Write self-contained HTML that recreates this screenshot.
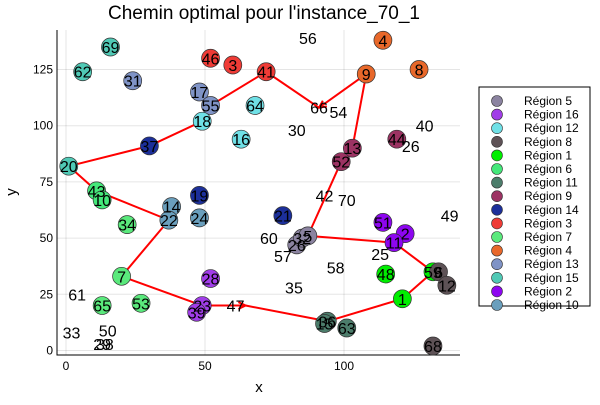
<!DOCTYPE html>
<html><head><meta charset="utf-8"><style>
body{margin:0;background:#fff}
svg text{font-family:"Liberation Sans","DejaVu Sans",sans-serif}
</style></head><body>
<svg id="c" width="600" height="400" xmlns="http://www.w3.org/2000/svg">
<text x="264" y="19" font-size="19" text-anchor="middle">Chemin optimal pour l'instance_70_1</text>
<text x="259" y="392" font-size="15" text-anchor="middle">x</text>
<text x="16" y="192" font-size="15" text-anchor="middle" transform="rotate(-90 16 192)">y</text>
<g id="grid"></g><g id="axes"></g><g id="route"></g><g id="pts"></g><g id="labels"></g><g id="legend"></g>
</svg>
<script>
const regionNames=["Région 5","Région 16","Région 12","Région 8","Région 1","Région 6","Région 11","Région 9","Région 14","Région 3","Région 7","Région 4","Région 13","Région 15","Région 2","Région 10"];
const regionColors=["#8b83a0","#a13de8","#6fe0e6","#5e5256","#00ee00","#44e87a","#4c7d6b","#9c3363","#1c2f9a","#ef3b36","#5ae97c","#e8682a","#7f93c6","#50c9b5","#8d06f0","#6a9fbd"];
// nodes: [id, x, y, regionIndex (-1 = no marker)]
const nodes=[[69,16,135,13],[62,6,124,13],[31,24,120,12],[46,52,130,9],[3,60,127,9],[41,72,124,9],[17,48,115,12],[55,52,109,12],[64,68,109,2],[18,49,102,2],[16,63,94,2],[37,30,91,8],[20,1,82,13],[43,11,71,5],[10,13,67,5],[34,22,56,10],[14,38,64,15],[22,37,58,15],[24,48,59,15],[19,48,69,8],[7,20,33,10],[28,52,32,1],[23,49,20,1],[39,47,17,1],[65,13,20,10],[53,27,21,10],[21,78,60,8],[26,83,47,0],[32,85,50,0],[5,87,51,0],[9,108,123,11],[4,114,138,11],[8,127,125,11],[13,103,90,7],[52,99,84,7],[44,119,94,7],[51,114,57,14],[2,122,52,14],[11,118,48,14],[48,115,34,4],[1,121,23,4],[59,132,35,4],[6,134,35,3],[12,137,29,3],[36,94,13,6],[15,93,12,6],[63,101,10,6],[68,132,2,3],
[56,87,139,-1],[66,91,108,-1],[54,98,106,-1],[30,83,98,-1],[40,129,100,-1],[26,124,91,-1],[42,93,69,-1],[70,101,67,-1],[49,138,60,-1],[60,73,50,-1],[57,78,42,-1],[25,113,43,-1],[58,97,37,-1],[35,82,28,-1],[47,61,20,-1],[61,4,25,-1],[33,2,8,-1],[50,15,9,-1],[29,13,3,-1],[38,14,3,-1]];
const route=[47,36,1,59,11,5,52,13,9,66,41,55,18,37,20,43,22,7,23,47];
const xTicks=[0,50,100];
const yTicks=[0,25,50,75,100,125];
const NS="http://www.w3.org/2000/svg";
const X0=57,X1=460,Y0=355,Y1=30;
const sx=v=>66+v*2.78, sy=v=>350.5-v*2.248;
function mk(t,a,p){const e=document.createElementNS(NS,t);for(const k in a)e.setAttribute(k,a[k]);p.appendChild(e);return e;}
const g=document.getElementById('grid'),ax=document.getElementById('axes');
xTicks.forEach(v=>{const l=mk('line',{x1:sx(v),x2:sx(v),y1:Y1,y2:Y0,stroke:'#000','stroke-opacity':0.1},g);

const t=mk('text',{x:sx(v),y:Y0+15,'font-size':12,'text-anchor':'middle'},ax);t.textContent=v;
});
yTicks.forEach(v=>{const l=mk('line',{x1:X0,x2:X1,y1:sy(v),y2:sy(v),stroke:'#000','stroke-opacity':0.1},g);

const t=mk('text',{x:X0-4,y:sy(v)+4,'font-size':12,'text-anchor':'end'},ax);t.textContent=v;
});
const a1=mk('path',{d:`M${X0},${Y1}V${Y0}H${X1}`,fill:'none',stroke:'#000','stroke-width':1},ax);

const byId={};nodes.forEach(n=>byId[n[0]]=n);
const off=id=>id===47?10:0;
const r=document.getElementById('route');
for(let i=0;i<route.length-1;i++){const a=byId[route[i]],b=byId[route[i+1]];
const x1=sx(a[1])+off(a[0]),y1=sy(a[2]),x2=sx(b[1])+off(b[0]),y2=sy(b[2]);
const l=mk('line',{x1,y1,x2,y2,stroke:'#f00','stroke-width':2},r);

const ang=Math.atan2(y2-y1,x2-x1),h=8;
const p=mk('path',{d:`M${x2-h*Math.cos(ang-0.45)},${y2-h*Math.sin(ang-0.45)}L${x2},${y2}L${x2-h*Math.cos(ang+0.45)},${y2-h*Math.sin(ang+0.45)}`,fill:'none',stroke:'#f00','stroke-width':2},r);
}
const P=document.getElementById('pts'),L=document.getElementById('labels');
nodes.forEach(n=>{if(n[3]>=0){const c=mk('circle',{cx:sx(n[1]),cy:sy(n[2]),r:9,fill:regionColors[n[3]],stroke:'#333','stroke-width':0.7},P);
}
const t=mk('text',{x:sx(n[1]),y:sy(n[2])+6,'font-size':16,'text-anchor':'middle'},L);t.textContent=n[0];
});
const lg=document.getElementById('legend');
const box=mk('rect',{x:479,y:87,width:111,height:219,fill:'#fff',stroke:'#000','stroke-width':1},lg);

regionNames.forEach((nm,i)=>{const y=101+i*13.6;
const c=mk('circle',{cx:497,cy:y,r:5.5,fill:regionColors[i],stroke:'#333','stroke-width':0.6},lg);

const t=mk('text',{x:524,y:y+4,'font-size':12},lg);t.textContent=nm;
});
</script>
</body></html>
